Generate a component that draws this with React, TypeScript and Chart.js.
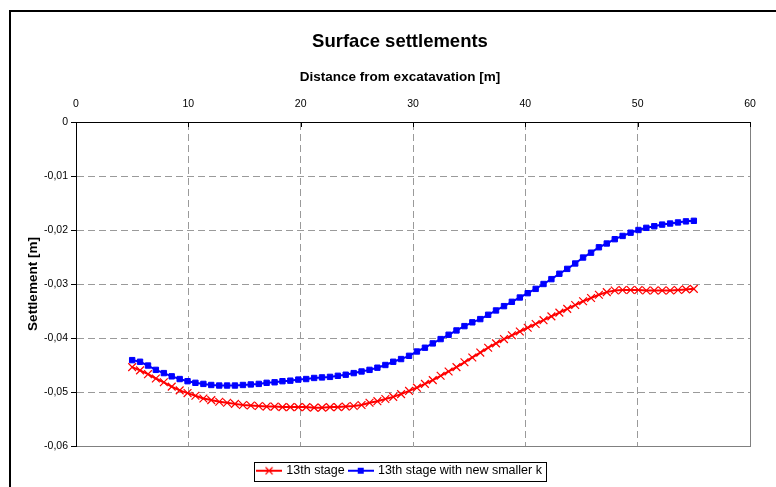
import React, { useEffect, useRef } from 'react';
import { Chart, registerables } from 'chart.js';

Chart.register(...registerables);

// Distance from excavation [m]
const distance = [
  5.0, 5.7, 6.41, 7.11, 7.82, 8.52, 9.23, 9.93, 10.63, 11.34, 12.04, 12.75,
  13.45, 14.15, 14.86, 15.56, 16.27, 16.97, 17.68, 18.38, 19.08, 19.79, 20.49, 21.2,
  21.9, 22.61, 23.31, 24.01, 24.72, 25.42, 26.13, 26.83, 27.54, 28.24, 28.94, 29.65,
  30.35, 31.06, 31.76, 32.46, 33.17, 33.87, 34.58, 35.28, 35.99, 36.69, 37.39, 38.1,
  38.8, 39.51, 40.21, 40.92, 41.62, 42.32, 43.03, 43.73, 44.44, 45.14, 45.85, 46.55,
  47.25, 47.96, 48.66, 49.37, 50.07, 50.77, 51.48, 52.18, 52.89, 53.59, 54.3, 55.0,
];

// Settlement [m] – 13th stage
const stage13 = [
  -0.0454, -0.046, -0.0467, -0.0475, -0.0482, -0.049, -0.0497, -0.0502, -0.0507, -0.0512, -0.0515, -0.0518,
  -0.052, -0.0522, -0.0524, -0.0525, -0.0526, -0.0527, -0.0527, -0.0528, -0.0528, -0.0528, -0.0528, -0.0529,
  -0.0529, -0.0528, -0.0528, -0.0527, -0.0526, -0.0524, -0.052, -0.0517, -0.0513, -0.0509, -0.0504, -0.0498,
  -0.0492, -0.0485, -0.0478, -0.047, -0.0462, -0.0454, -0.0445, -0.0436, -0.0427, -0.0418, -0.041, -0.0402,
  -0.0395, -0.0388, -0.0381, -0.0374, -0.0367, -0.036, -0.0353, -0.0346, -0.0339, -0.0332, -0.0326, -0.032,
  -0.0315, -0.0312, -0.0311, -0.0311, -0.0311, -0.0312, -0.0312, -0.0312, -0.0312, -0.0311, -0.031, -0.0309,
];

// Settlement [m] – 13th stage with new smaller k
const stage13SmallerK = [
  -0.0441, -0.0444, -0.0451, -0.0459, -0.0465, -0.0471, -0.0476, -0.048, -0.0483, -0.0485, -0.0487, -0.0488,
  -0.0488, -0.0488, -0.0487, -0.0486, -0.0485, -0.0483, -0.0482, -0.048, -0.0479, -0.0477, -0.0476, -0.0474,
  -0.0473, -0.0472, -0.047, -0.0468, -0.0465, -0.0462, -0.0459, -0.0455, -0.045, -0.0444, -0.0439, -0.0433,
  -0.0425, -0.0418, -0.041, -0.0402, -0.0394, -0.0386, -0.0378, -0.0371, -0.0365, -0.0357, -0.0349, -0.0341,
  -0.0333, -0.0325, -0.0317, -0.0309, -0.03, -0.0291, -0.0281, -0.0272, -0.0262, -0.0251, -0.0242, -0.0232,
  -0.0225, -0.0217, -0.0211, -0.0205, -0.02, -0.0196, -0.0193, -0.019, -0.0188, -0.0186, -0.0184, -0.0183,
];

const seriesNames = ['13th stage', '13th stage with new smaller k'];
const seriesColors = ['#ff0000', '#0000ff'];

const xMin = 0;
const xMax = 60;
const xStep = 10;
const yMin = -0.06;
const yMax = 0;
const yStep = 0.01;

const FONT = '"Liberation Sans", Arial, Helvetica, sans-serif';
const GRID = '#9a9a9a';
const EDGE = '#808080';

function makeIcon(color: string, kind: 'cross' | 'square'): HTMLCanvasElement {
  const c = document.createElement('canvas');
  c.width = 26;
  c.height = 12;
  const g = c.getContext('2d')!;
  g.strokeStyle = color;
  g.fillStyle = color;
  g.lineWidth = 2;
  g.beginPath();
  g.moveTo(0, 6);
  g.lineTo(26, 6);
  g.stroke();
  if (kind === 'cross') {
    g.lineWidth = 1.2;
    g.beginPath();
    g.moveTo(9.5, 2.5);
    g.lineTo(16.5, 9.5);
    g.moveTo(16.5, 2.5);
    g.lineTo(9.5, 9.5);
    g.stroke();
  } else {
    g.fillRect(10, 3, 6, 6);
  }
  return c;
}

const framePlugin = {
  id: 'excelFrame',
  afterDraw(chart: any) {
    const { ctx } = chart;
    ctx.save();
    // inward tick marks on the top (x) axis
    const xs = chart.scales.x;
    const top = chart.chartArea.top;
    ctx.strokeStyle = '#000';
    ctx.lineWidth = 1;
    ctx.beginPath();
    xs.ticks.forEach((t: any) => {
      const px = Math.round(xs.getPixelForValue(t.value)) + 0.5;
      ctx.moveTo(px, top);
      ctx.lineTo(px, top + 5);
    });
    ctx.stroke();
    // outer chart frame
    ctx.lineWidth = 2;
    ctx.strokeRect(10, 11, chart.width + 20, chart.height + 20);
    // legend box
    const hb = chart.legend && chart.legend.legendHitBoxes;
    if (hb && hb.length) {
      let l = Infinity, r = -Infinity, t = Infinity, b = -Infinity;
      hb.forEach((h: any) => {
        l = Math.min(l, h.left);
        r = Math.max(r, h.left + h.width);
        t = Math.min(t, h.top);
        b = Math.max(b, h.top + h.height);
      });
      ctx.lineWidth = 1;
      ctx.strokeRect(Math.round(l - 4) + 0.5, Math.round(t - 3) + 0.5, Math.round(r - l + 8), Math.round(b - t + 6));
    }
    ctx.restore();
  },
};

export default function App() {
  const ref = useRef<HTMLCanvasElement | null>(null);

  useEffect(() => {
    if (!ref.current) return;
    const icons = [makeIcon(seriesColors[0], 'cross'), makeIcon(seriesColors[1], 'square')];

    const chart = new Chart(ref.current, {
      type: 'line',
      data: {
        datasets: [
          {
            label: seriesNames[0],
            data: distance.map((x, i) => ({ x, y: stage13[i] })),
            borderColor: seriesColors[0],
            backgroundColor: seriesColors[0],
            borderWidth: 2,
            pointStyle: 'crossRot',
            pointRadius: 5.5,
            pointBorderWidth: 1.2,
            pointBorderColor: seriesColors[0],
            tension: 0,
            order: 1,
          },
          {
            label: seriesNames[1],
            data: distance.map((x, i) => ({ x, y: stage13SmallerK[i] })),
            borderColor: seriesColors[1],
            backgroundColor: seriesColors[1],
            borderWidth: 2,
            pointStyle: 'rect',
            pointRadius: 3.8,
            pointBorderWidth: 1,
            pointBorderColor: seriesColors[1],
            pointBackgroundColor: seriesColors[1],
            tension: 0,
            order: 2,
          },
        ],
      },
      options: {
        responsive: false,
        animation: false,
        events: [],
        layout: { padding: { top: 10, left: 24, right: 0, bottom: 0 } },
        plugins: {
          title: {
            display: true,
            text: 'Surface settlements',
            color: '#000',
            font: { family: FONT, size: 18.5, weight: 'bold' },
            padding: { top: 21, bottom: 0 },
          },
          subtitle: {
            display: true,
            text: 'Distance from excatavation [m]',
            color: '#000',
            font: { family: FONT, size: 13.5, weight: 'bold' },
            padding: { top: 16, bottom: 0 },
          },
          legend: {
            position: 'bottom',
            labels: {
              usePointStyle: true,
              pointStyleWidth: 22,
              padding: 5,
              color: '#000',
              font: { family: FONT, size: 12.5 },
              generateLabels: (c: any) => {
                const items = Chart.defaults.plugins.legend.labels.generateLabels(c);
                items.forEach((it: any, i: number) => {
                  it.pointStyle = icons[i];
                });
                return items;
              },
            },
          },
          tooltip: { enabled: false },
        },
        scales: {
          x: {
            type: 'linear',
            position: 'top',
            min: xMin,
            max: xMax,
            afterFit: (s: any) => {
              s.height = 36.6;
            },
            ticks: {
              stepSize: xStep,
              padding: 12,
              color: '#000',
              font: { family: FONT, size: 10.5 },
              callback: (v: any) => String(v),
            },
            grid: {
              drawTicks: false,
              color: (c: any) => (c.tick && (c.tick.value === xMin || c.tick.value === xMax) ? 'rgba(0,0,0,0)' : GRID),
              lineWidth: 1,
            },
            border: { display: true, color: '#000', width: 1, dash: [7, 4] },
          },
          x2: {
            type: 'linear',
            position: 'bottom',
            min: xMin,
            max: xMax,
            afterFit: (s: any) => {
              s.height = 13.5;
            },
            ticks: { display: false },
            grid: { display: false, drawTicks: false },
            border: { display: true, color: EDGE, width: 1 },
          },
          y: {
            type: 'linear',
            position: 'left',
            min: yMin,
            max: yMax,
            afterFit: (s: any) => {
              s.width = 52;
            },
            title: {
              display: true,
              text: 'Settlement [m]',
              color: '#000',
              font: { family: FONT, size: 13.5, weight: 'bold' },
              padding: { top: 1, bottom: 0 },
            },
            ticks: {
              stepSize: yStep,
              padding: 3,
              color: '#000',
              font: { family: FONT, size: 10.5 },
              callback: (v: any) => (Math.abs(Number(v)) < 1e-9 ? '0' : Number(v).toFixed(2).replace('.', ',')),
            },
            grid: {
              drawTicks: true,
              tickLength: 5,
              tickColor: '#000',
              tickWidth: 1,
              color: (c: any) =>
                c.tick && (Math.abs(c.tick.value - yMax) < 1e-9 || Math.abs(c.tick.value - yMin) < 1e-9)
                  ? 'rgba(0,0,0,0)'
                  : GRID,
              lineWidth: 1,
            },
            border: { display: true, color: '#000', width: 1, dash: [7, 4] },
          },
          y2: {
            type: 'linear',
            position: 'right',
            min: yMin,
            max: yMax,
            afterFit: (s: any) => {
              s.width = 26;
            },
            ticks: { display: false },
            grid: { display: false, drawTicks: false },
            border: { display: true, color: EDGE, width: 1 },
          },
        },
      } as any,
      plugins: [framePlugin],
    });

    return () => chart.destroy();
  }, []);

  return (
    <div
      style={{
        position: 'absolute',
        left: 0,
        top: 0,
        width: 776,
        height: 487,
        overflow: 'hidden',
        background: '#fff',
      }}
    >
      <canvas ref={ref} width={776} height={487} style={{ display: 'block' }} />
    </div>
  );
}
